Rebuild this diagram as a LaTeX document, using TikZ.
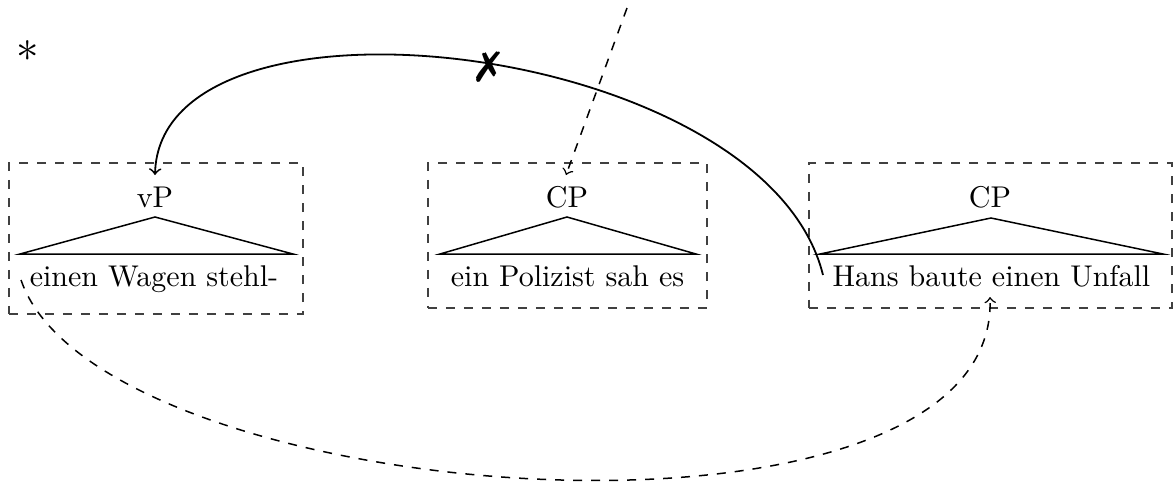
\documentclass[tikz,border=0pt]{standalone}
\usepackage{pifont}
\usetikzlibrary{fit}
\begin{document}
\begin{tikzpicture}[x=0.011715cm,y=-0.011715cm,
  box/.style={draw=black!75, dashed, inner sep=0pt},
  lab/.style={inner sep=0pt, anchor=base},
  tri/.style={line width=0.5pt},
  move/.style={->, line width=0.6pt},
  dmove/.style={->, dashed, line width=0.5pt}]
\useasboundingbox (0,0) rectangle (1176,482);
% boxes
\node[box, fit={(9,163) (303,314)}] (b1) {};
\node[box, fit={(428,163) (707,308)}] (b2) {};
\node[box, fit={(809,163) (1172,308)}] (b3) {};
% labels
\node[lab] (c1) at (155,207) {vP};
\node[lab] (t1) at (154,286) {einen Wagen stehl-};
\node[lab] (c2) at (567,207) {CP};
\node[lab] (t2) at (567.5,286) {ein Polizist sah es};
\node[lab] (c3) at (990,207) {CP};
\node[lab] (t3) at (991.5,286) {Hans baute einen Unfall};
% triangles
\draw[tri] (20,254) -- (155,217) -- (293,254) -- cycle;
\draw[tri] (440,254) -- (567,217) -- (696,254) -- cycle;
\draw[tri] (820,254) -- (991,218) -- (1163,254) -- cycle;
% star
\node[inner sep=0pt, scale=1.5] (star) at (28,51) {$*$};
% connectors
\coordinate (s1) at (823,275);
\coordinate (e1) at (155,175);
\draw[move] (s1) .. controls (765,40) and (160,-28) .. (e1);
\node[inner sep=0pt, scale=1.4] (x) at (488,67) {\ding{55}};
\coordinate (top) at (627,8);
\coordinate (e2) at (566,175);
\draw[dmove] (top) -- (e2);
\coordinate (s3) at (21,280);
\coordinate (e3) at (990,297);
\draw[dmove] (s3) .. controls (100,510) and (1000,575) .. (e3);
\end{tikzpicture}
\end{document}
